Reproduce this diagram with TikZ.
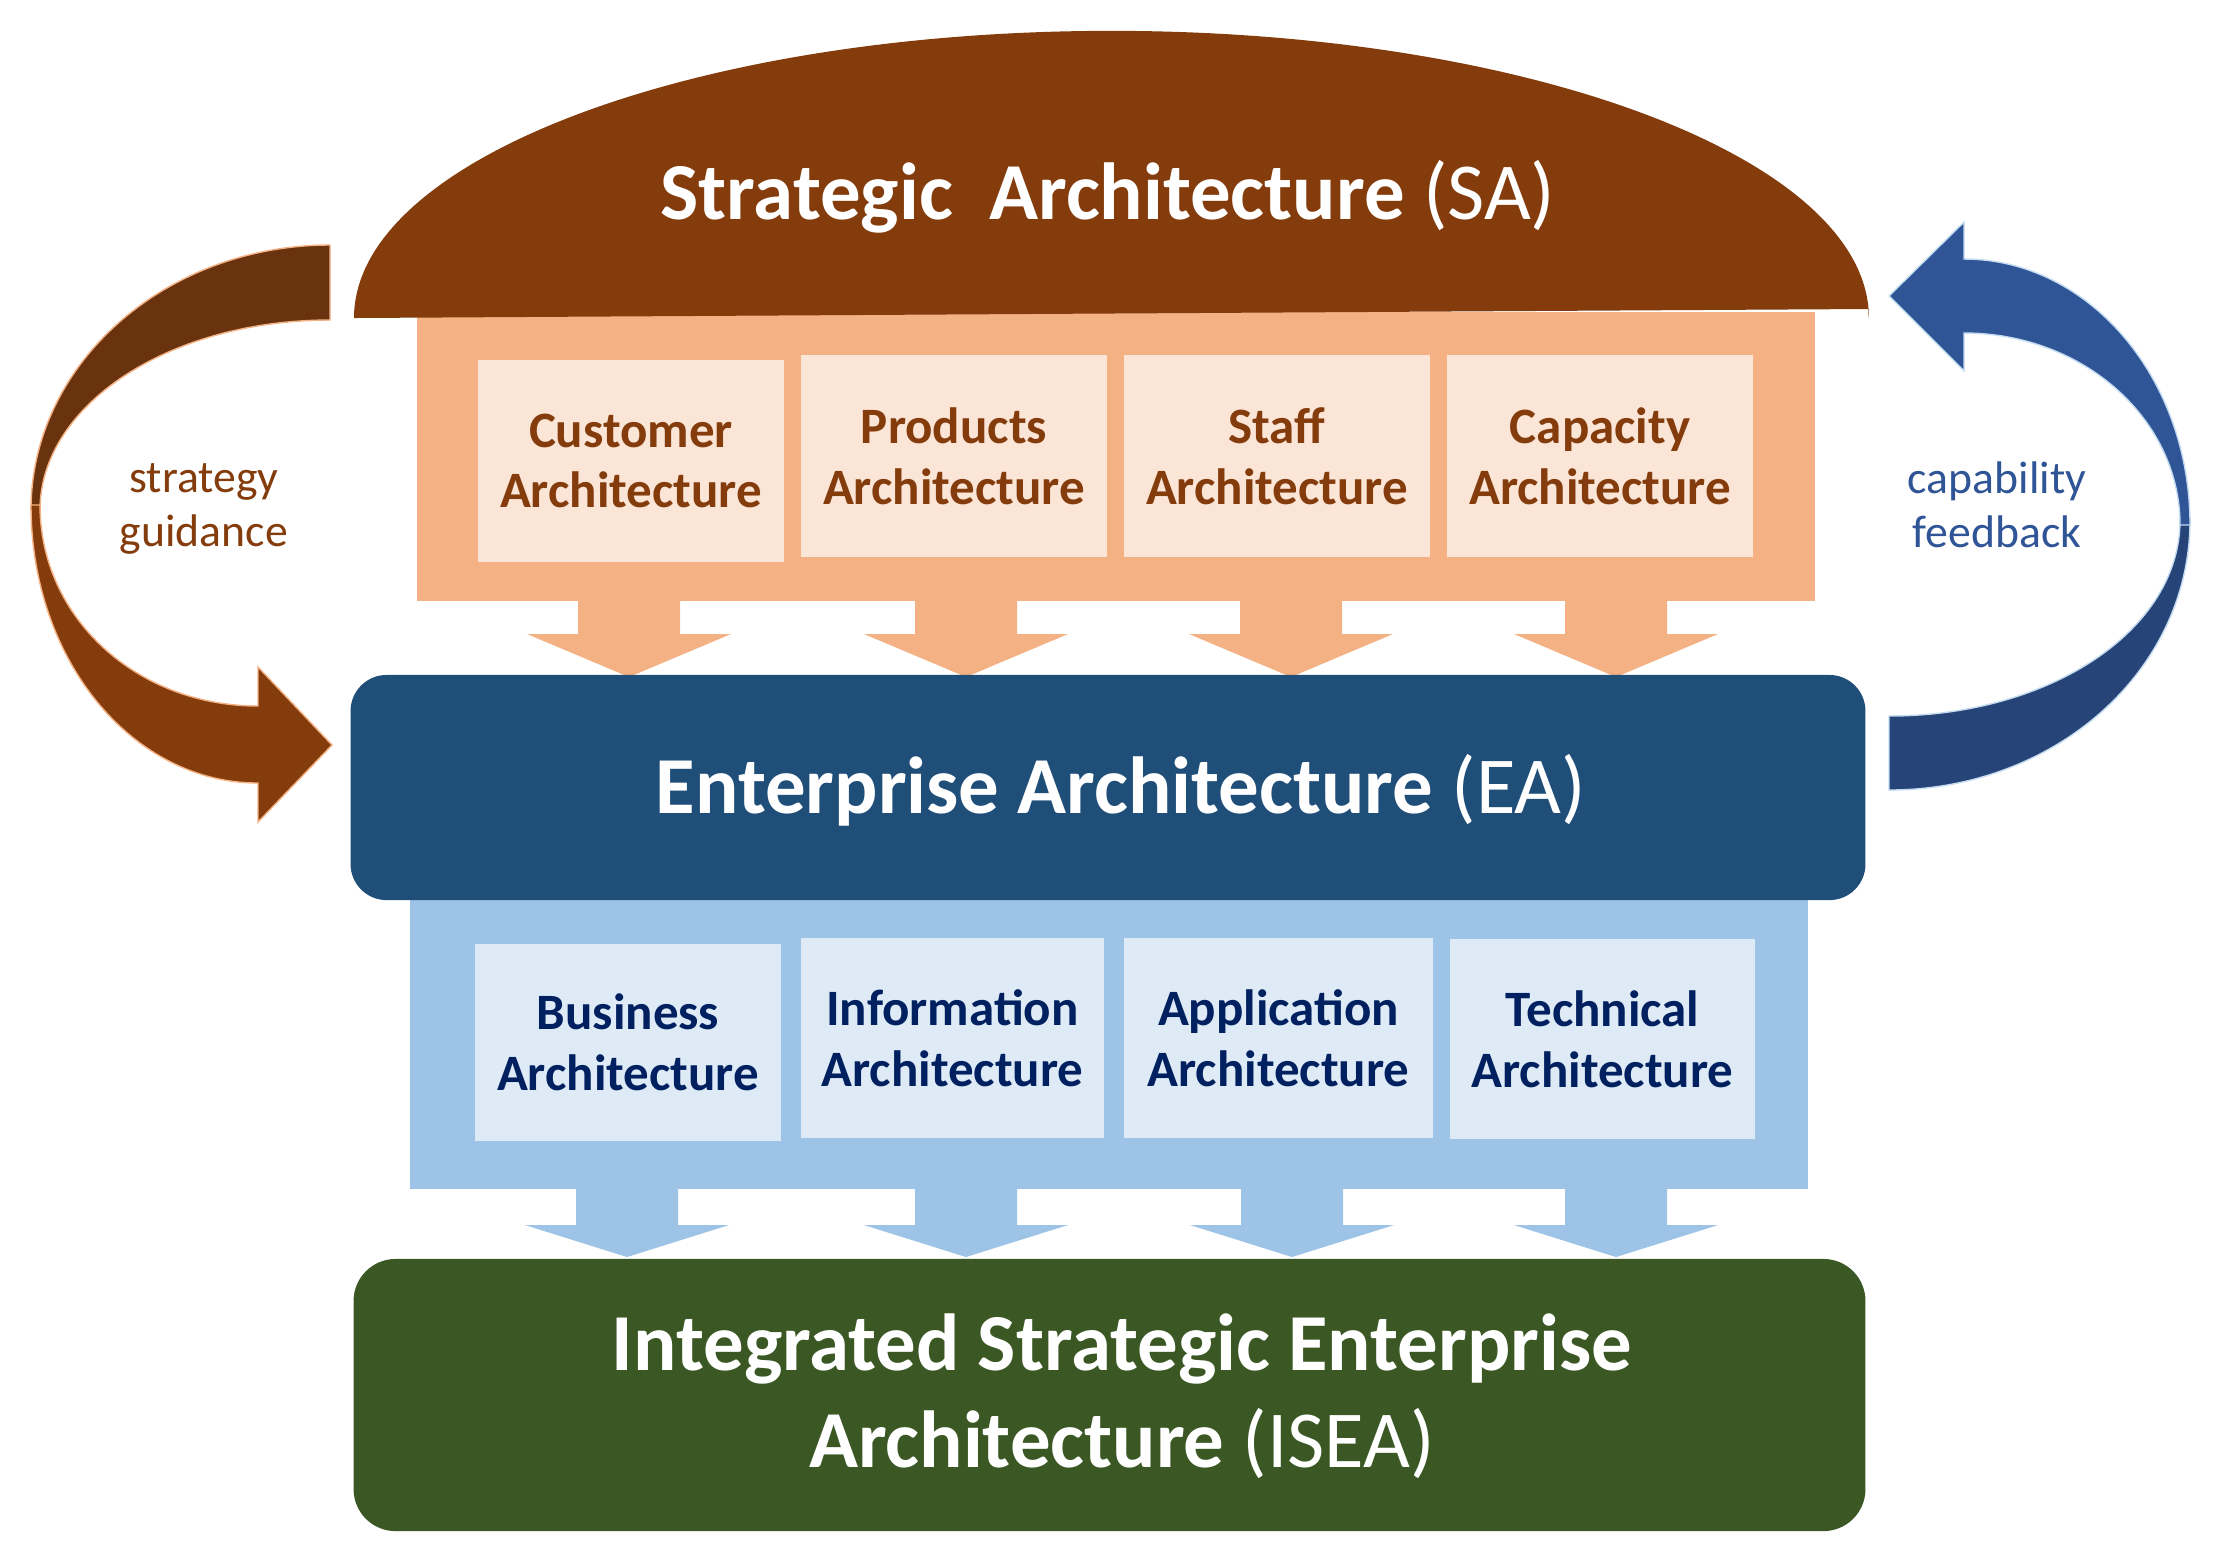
\documentclass[tikz,border=0pt]{standalone}
\usepackage{fontspec}
\setmainfont{Carlito}
\definecolor{sabrown}{HTML}{843C0C}
\definecolor{darkbrown}{HTML}{6A3310}
\definecolor{orangeband}{HTML}{F4B183}
\definecolor{orangebox}{HTML}{FBE5D6}
\definecolor{eablue}{HTML}{1F4E79}
\definecolor{blueband}{HTML}{9DC3E6}
\definecolor{bluebox}{HTML}{DEEBF7}
\definecolor{iseagreen}{HTML}{3A5724}
\definecolor{arrowblueA}{HTML}{2F5597}
\definecolor{arrowblueB}{HTML}{264478}
\definecolor{navytext}{HTML}{002060}
\newcommand\downblock[5]{\fill[#3,shift={(#1,#2)}] (-51,0) -- (51,0) -- (51,#4) -- (102,#4) -- (0,#5) -- (-102,#4) -- (-51,#4) -- cycle;}
\tikzset{
  bigtext/.style={text=white,font=\fontsize{23}{27.5}\selectfont,align=center},
  obox/.style={fill=orangebox,minimum width=3.06cm,minimum height=2.01cm,inner sep=0pt,
     text=sabrown,font=\bfseries\fontsize{14.5}{17.3}\selectfont,align=center},
  bbox/.style={fill=bluebox,minimum width=3.06cm,minimum height=2.0cm,inner sep=0pt,
     text=navytext,font=\bfseries\fontsize{14.5}{17.3}\selectfont,align=center},
  sidetext/.style={font=\fontsize{13}{15.5}\selectfont,align=center}
}
\begin{document}
\begin{tikzpicture}[x=0.01cm,y=-0.01cm]
\useasboundingbox[fill=white] (0,0) rectangle (2219,1562);

% orange band and SA dome
\fill[orangeband] (417,312) rectangle (1815,601);
\fill[sabrown] (354,318) arc[start angle=180,end angle=0,x radius=7.57cm,y radius=2.87cm] -- (1868,309) -- cycle;
\node[bigtext] (sa) at (1108,197) {\textbf{Strategic\ \ Architecture} (SA)};

% SA boxes
\node[obox] (cust) at (631,461) {Customer\\Architecture};
\node[obox] (prod) at (954,456) {Products\\Architecture};
\node[obox] (staff) at (1277,456) {Staff\\Architecture};
\node[obox] (capa) at (1600,456) {Capacity\\Architecture};

% orange down arrows
\downblock{629}{600}{orangeband}{34}{77}
\downblock{966}{600}{orangeband}{34}{77}
\downblock{1291}{600}{orangeband}{34}{77}
\downblock{1616}{600}{orangeband}{34}{77}

% blue band
\fill[blueband] (410,880) rectangle (1808,1189);
% EA box
\node[fill=eablue,rounded corners=0.36cm,minimum width=15.14cm,minimum height=2.25cm] (ea) at (1108,787.5) {};
\node[bigtext] (eatext) at (1121,790) {\textbf{Enterprise Architecture} (EA)};

% EA boxes
\node[bbox,minimum height=1.97cm] (bus) at (628,1042.5) {Business\\Architecture};
\node[bbox,minimum width=3.03cm] (info) at (952.5,1038) {Information\\Architecture};
\node[bbox,minimum width=3.09cm] (app) at (1278.5,1038) {Application\\Architecture};
\node[bbox,minimum width=3.05cm] (tech) at (1602.5,1039) {Technical\\Architecture};

% blue down arrows
\downblock{627}{1188}{blueband}{37}{69}
\downblock{966}{1188}{blueband}{37}{69}
\downblock{1292}{1188}{blueband}{37}{69}
\downblock{1616}{1188}{blueband}{37}{69}

% ISEA box
\node[fill=iseagreen,rounded corners=0.42cm,minimum width=15.11cm,minimum height=2.72cm] (isea) at (1109.5,1395) {};
\node[bigtext] (iseatext) at (1122,1396) {\textbf{Integrated Strategic Enterprise}\\\textbf{Architecture} (ISEA)};

% left curved arrow (strategy guidance)
\coordinate (ltail) at (330,245);
\coordinate (lhead) at (332,745);
\fill[darkbrown,draw=orangeband,line width=0.4pt] (ltail) .. controls (165,245) and (31,364) .. (31,510)
  -- (40,510) .. controls (40,405) and (169,320) .. (330,320) -- cycle;
\fill[sabrown,draw=orangeband,line width=0.4pt] (31,505) .. controls (31,661) and (133,783) .. (258,783)
  -- (258,822) -- (lhead) -- (258,667) -- (258,706)
  .. controls (137,706) and (40,618) .. (40,505) -- cycle;
\node[sidetext,text=sabrown] (sg) at (204,509) {strategy\\guidance};

% right curved arrow (capability feedback)
\coordinate (rtail) at (1889,790);
\coordinate (rhead) at (1889,296);
\fill[arrowblueB,draw=blueband!60,line width=0.4pt] (2190,520) .. controls (2190,671) and (2055,790) .. (rtail)
  -- (1889,716) .. controls (2050,716) and (2180,630) .. (2180,520) -- cycle;
\fill[arrowblueA,draw=blueband!60,line width=0.4pt] (1964,259) .. controls (2089,259) and (2190,378) .. (2190,525)
  -- (2180,525) .. controls (2180,419) and (2083,333) .. (1964,333)
  -- (1964,371) -- (rhead) -- (1964,222) -- cycle;
\node[sidetext,text=arrowblueA] (cf) at (1997,505) {capability\\feedback};
\end{tikzpicture}
\end{document}
